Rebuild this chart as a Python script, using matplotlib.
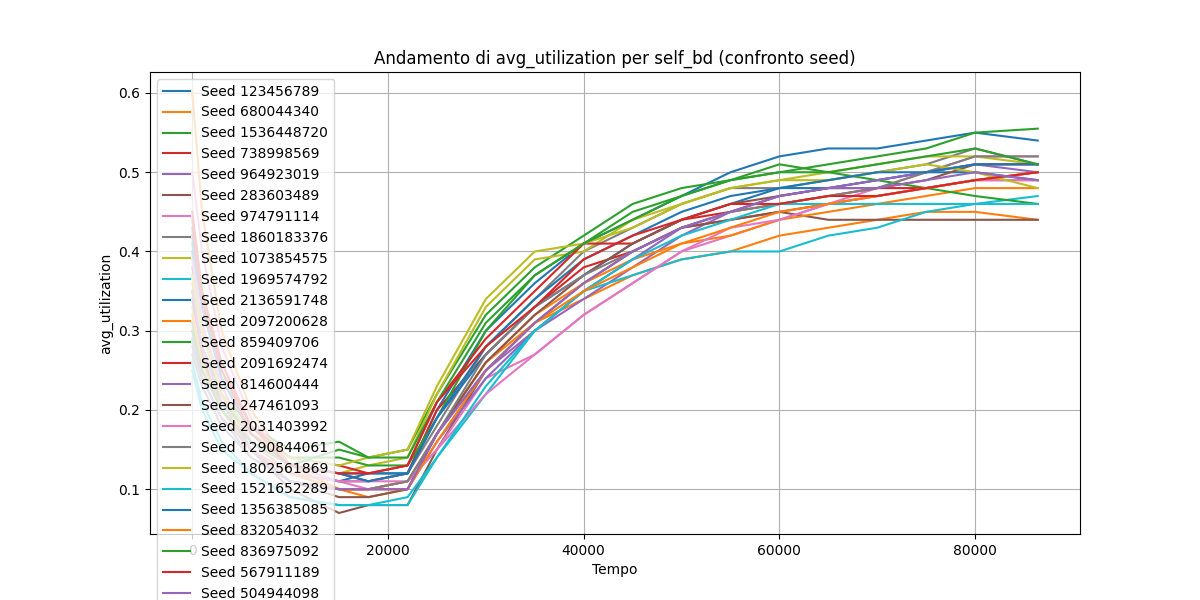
import matplotlib
matplotlib.use("Agg")
import matplotlib.pyplot as plt

tempo = [0, 1000, 3000, 6000, 10000, 15000, 18000, 22000, 25000, 30000, 35000,
         40000, 45000, 50000, 55000, 60000, 65000, 70000, 75000, 80000, 86400]

seeds = [123456789, 680044340, 1536448720, 738998569, 964923019, 283603489,
         974791114, 1860183376, 1073854575, 1969574792, 2136591748, 2097200628,
         859409706, 2091692474, 814600444, 247461093, 2031403992, 1290844061,
         1802561869, 1521652289, 1356385085, 832054032, 836975092, 567911189,
         504944098]

valori = [
    [0.40, 0.30, 0.22, 0.16, 0.12, 0.11, 0.12, 0.12, 0.20, 0.30, 0.36, 0.41, 0.44, 0.47, 0.50, 0.52, 0.53, 0.53, 0.54, 0.55, 0.54],
    [0.60, 0.45, 0.30, 0.20, 0.13, 0.10, 0.09, 0.10, 0.17, 0.26, 0.31, 0.34, 0.37, 0.39, 0.40, 0.42, 0.43, 0.44, 0.45, 0.45, 0.44],
    [0.35, 0.28, 0.22, 0.18, 0.15, 0.16, 0.14, 0.15, 0.22, 0.32, 0.38, 0.42, 0.46, 0.48, 0.49, 0.50, 0.51, 0.52, 0.53, 0.55, 0.555],
    [0.45, 0.35, 0.25, 0.18, 0.13, 0.12, 0.11, 0.12, 0.20, 0.27, 0.33, 0.38, 0.40, 0.43, 0.44, 0.45, 0.46, 0.47, 0.48, 0.49, 0.50],
    [0.30, 0.25, 0.20, 0.15, 0.12, 0.10, 0.10, 0.11, 0.17, 0.25, 0.30, 0.34, 0.38, 0.42, 0.45, 0.47, 0.48, 0.49, 0.50, 0.51, 0.50],
    [0.38, 0.30, 0.22, 0.15, 0.10, 0.07, 0.08, 0.08, 0.15, 0.25, 0.31, 0.36, 0.40, 0.43, 0.44, 0.45, 0.44, 0.44, 0.44, 0.44, 0.44],
    [0.50, 0.40, 0.28, 0.19, 0.13, 0.11, 0.10, 0.11, 0.15, 0.24, 0.27, 0.32, 0.36, 0.40, 0.42, 0.44, 0.46, 0.48, 0.50, 0.52, 0.52],
    [0.28, 0.24, 0.19, 0.15, 0.12, 0.11, 0.11, 0.12, 0.18, 0.28, 0.34, 0.40, 0.43, 0.46, 0.48, 0.48, 0.49, 0.50, 0.51, 0.53, 0.51],
    [0.33, 0.28, 0.21, 0.16, 0.13, 0.12, 0.13, 0.14, 0.22, 0.33, 0.39, 0.40, 0.44, 0.46, 0.48, 0.49, 0.50, 0.51, 0.52, 0.52, 0.51],
    [0.25, 0.20, 0.15, 0.12, 0.09, 0.08, 0.08, 0.09, 0.14, 0.22, 0.30, 0.35, 0.37, 0.39, 0.40, 0.40, 0.42, 0.43, 0.45, 0.46, 0.47],
    [0.42, 0.33, 0.24, 0.17, 0.13, 0.12, 0.12, 0.12, 0.19, 0.27, 0.33, 0.37, 0.41, 0.44, 0.46, 0.48, 0.48, 0.49, 0.50, 0.50, 0.49],
    [0.36, 0.30, 0.22, 0.16, 0.12, 0.10, 0.10, 0.11, 0.17, 0.26, 0.32, 0.36, 0.39, 0.41, 0.42, 0.44, 0.45, 0.46, 0.47, 0.48, 0.48],
    [0.31, 0.26, 0.21, 0.17, 0.14, 0.14, 0.13, 0.13, 0.19, 0.30, 0.37, 0.41, 0.45, 0.47, 0.49, 0.51, 0.50, 0.49, 0.48, 0.47, 0.46],
    [0.44, 0.35, 0.26, 0.18, 0.14, 0.13, 0.12, 0.13, 0.21, 0.29, 0.35, 0.41, 0.41, 0.44, 0.45, 0.46, 0.47, 0.48, 0.48, 0.49, 0.49],
    [0.29, 0.24, 0.19, 0.14, 0.11, 0.10, 0.10, 0.10, 0.16, 0.24, 0.30, 0.35, 0.39, 0.43, 0.45, 0.47, 0.48, 0.49, 0.50, 0.51, 0.51],
    [0.34, 0.27, 0.20, 0.15, 0.11, 0.09, 0.09, 0.10, 0.17, 0.26, 0.32, 0.37, 0.41, 0.44, 0.46, 0.47, 0.48, 0.48, 0.49, 0.51, 0.51],
    [0.39, 0.31, 0.23, 0.16, 0.12, 0.11, 0.11, 0.11, 0.15, 0.22, 0.27, 0.32, 0.36, 0.40, 0.43, 0.44, 0.46, 0.47, 0.48, 0.49, 0.49],
    [0.27, 0.23, 0.18, 0.14, 0.11, 0.10, 0.10, 0.11, 0.17, 0.27, 0.33, 0.37, 0.40, 0.43, 0.45, 0.46, 0.47, 0.48, 0.50, 0.52, 0.52],
    [0.37, 0.30, 0.22, 0.17, 0.14, 0.13, 0.14, 0.15, 0.23, 0.34, 0.40, 0.41, 0.43, 0.46, 0.48, 0.49, 0.49, 0.50, 0.51, 0.50, 0.48],
    [0.26, 0.21, 0.16, 0.12, 0.09, 0.08, 0.08, 0.08, 0.14, 0.23, 0.30, 0.35, 0.39, 0.42, 0.44, 0.46, 0.46, 0.46, 0.46, 0.46, 0.46],
    [0.41, 0.33, 0.24, 0.17, 0.13, 0.12, 0.11, 0.12, 0.19, 0.28, 0.34, 0.39, 0.42, 0.45, 0.47, 0.48, 0.49, 0.50, 0.50, 0.51, 0.51],
    [0.32, 0.26, 0.20, 0.15, 0.12, 0.10, 0.10, 0.10, 0.16, 0.25, 0.31, 0.35, 0.38, 0.41, 0.43, 0.45, 0.46, 0.47, 0.48, 0.49, 0.50],
    [0.30, 0.25, 0.20, 0.16, 0.13, 0.15, 0.14, 0.14, 0.21, 0.31, 0.37, 0.41, 0.44, 0.47, 0.49, 0.50, 0.50, 0.51, 0.52, 0.53, 0.51],
    [0.43, 0.34, 0.25, 0.17, 0.13, 0.12, 0.12, 0.13, 0.21, 0.28, 0.33, 0.39, 0.42, 0.44, 0.46, 0.46, 0.47, 0.47, 0.48, 0.49, 0.50],
    [0.35, 0.28, 0.21, 0.15, 0.11, 0.10, 0.10, 0.10, 0.17, 0.25, 0.31, 0.36, 0.40, 0.43, 0.45, 0.47, 0.48, 0.48, 0.49, 0.50, 0.49],
]

fig, ax = plt.subplots(figsize=(12, 6), dpi=100)
for seed, v in zip(seeds, valori):
    ax.plot(tempo, v, label=f"Seed {seed}")

ax.set_title("Andamento di avg_utilization per self_bd (confronto seed)")
ax.set_xlabel("Tempo")
ax.set_ylabel("avg_utilization")
ax.grid(True)
ax.legend(loc="upper left")
fig.savefig("out.png")
